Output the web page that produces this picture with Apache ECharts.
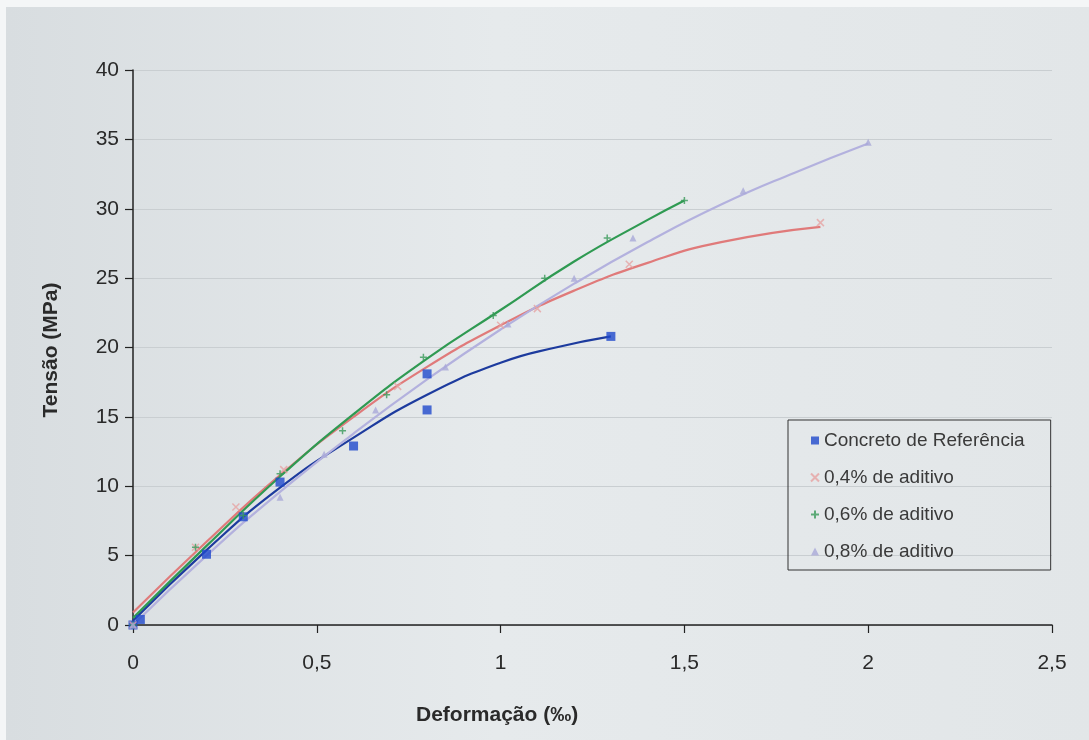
<!DOCTYPE html>
<html>
<head>
<meta charset="utf-8">
<script src="https://cdn.jsdelivr.net/npm/echarts@6/dist/echarts.min.js"></script>
<style>
  html, body { margin: 0; padding: 0; background: #f4f6f7; }
  #chart { width: 1089px; height: 740px; }
</style>
</head>
<body>
<div id="chart"></div>
<script>
// Measured points: [deformação (‰), tensão (MPa)]
const refPoints = [[0, 0], [0.02, 0.4], [0.2, 5.1], [0.3, 7.8], [0.4, 10.3], [0.6, 12.9], [0.8, 18.1], [0.8, 15.5], [1.3, 20.8]];
const add04Points = [[0, 0], [0.17, 5.6], [0.28, 8.5], [0.41, 11.2], [0.72, 17.2], [1.0, 21.6], [1.1, 22.8], [1.35, 26.0], [1.87, 29.0]];
const add06Points = [[0, 0], [0.17, 5.6], [0.3, 7.9], [0.4, 10.9], [0.57, 14.0], [0.69, 16.6], [0.79, 19.3], [0.98, 22.3], [1.12, 25.0], [1.29, 27.9], [1.5, 30.6]];
const add08Points = [[0, 0], [0.4, 9.2], [0.52, 12.3], [0.66, 15.5], [0.85, 18.6], [1.02, 21.7], [1.2, 25.0], [1.36, 27.9], [1.66, 31.3], [2.0, 34.8]];

// Trend curves
const refTrend = [[0, 0.3], [0.2, 5.4], [0.4, 9.9], [0.6, 13.5], [0.8, 16.6], [1.0, 18.9], [1.15, 20.0], [1.3, 20.8]];
const add04Trend = [[0, 0.9], [0.2, 6.0], [0.4, 10.8], [0.6, 15.0], [0.8, 18.6], [1.0, 21.6], [1.2, 24.1], [1.4, 26.1], [1.6, 27.6], [1.87, 28.7]];
const add06Trend = [[0, 0.5], [0.2, 5.7], [0.4, 10.7], [0.6, 15.2], [0.8, 19.2], [1.0, 22.7], [1.2, 26.2], [1.4, 29.2], [1.5, 30.6]];
const add08Trend = [[0, 0], [0.2, 5.0], [0.4, 9.6], [0.6, 13.8], [0.8, 17.7], [1.0, 21.3], [1.2, 24.6], [1.4, 27.6], [1.6, 30.3], [1.8, 32.6], [2.0, 34.7]];

const seriesNames = ['Concreto de Referência', '0,4% de aditivo', '0,6% de aditivo', '0,8% de aditivo'];
const xTicks = { min: 0, max: 2.5, step: 0.5 };
const yTicks = { min: 0, max: 40, step: 5 };
const xTitle = 'Deformação (‰)';
const yTitle = 'Tensão (MPa)';

const FONT = '"Liberation Sans", Arial, sans-serif';
const TEXT = '#2a2a2a';
const decimalComma = v => String(v).replace('.', ',');

const pointSets = [refPoints, add04Points, add06Points, add08Points];
const trendSets = [refTrend, add04Trend, add06Trend, add08Trend];
const markerColors = ['#1f48cc', '#e6a3a3', '#3a9a5a', '#a9a9d8'];
const lineColors = ['#1d3b9e', '#e07a7a', '#2f9a52', '#b3b1de'];
const symbols = [
  'rect',
  'path://M0,0L10,10M10,0L0,10',
  'path://M5,0L5,10M0,5L10,5',
  'triangle'
];

const series = [];
trendSets.forEach((data, i) => {
  series.push({
    name: seriesNames[i] + ' (tendência)',
    type: 'line',
    data: data,
    smooth: true,
    showSymbol: false,
    silent: true,
    lineStyle: { color: lineColors[i], width: 2.2 },
    z: 2
  });
});
pointSets.forEach((data, i) => {
  const stroked = i === 1 || i === 2;
  series.push({
    name: seriesNames[i],
    type: 'scatter',
    data: data,
    symbol: symbols[i],
    symbolSize: i === 0 ? 9 : 7,
    itemStyle: stroked
      ? { color: 'rgba(0,0,0,0)', borderColor: markerColors[i], borderWidth: 1.5 }
      : { color: markerColors[i] },
    z: 3
  });
});

const chart = echarts.init(document.getElementById('chart'), null, { renderer: 'canvas' });
chart.setOption({
  animation: false,
  backgroundColor: '#f4f6f7',
  graphic: [
    {
      type: 'rect',
      z: -10,
      shape: { x: 6, y: 7, width: 1089, height: 740 },
      style: {
        fill: new echarts.graphic.LinearGradient(0, 0, 1, 0, [
          { offset: 0, color: '#d8dde0' },
          { offset: 0.45, color: '#e6eaec' },
          { offset: 1, color: '#e2e6e8' }
        ])
      }
    },
    {
      type: 'text',
      left: 416, top: 705,
      style: { text: xTitle, font: 'bold 21px ' + FONT, fill: TEXT }
    },
    {
      type: 'text',
      x: 51, y: 350,
      rotation: Math.PI / 2,
      style: { text: yTitle, font: 'bold 21px ' + FONT, fill: TEXT, align: 'center', verticalAlign: 'middle' }
    }
  ],
  grid: { left: 133, right: 37, top: 70, bottom: 115 },
  legend: {
    data: seriesNames,
    orient: 'vertical',
    left: 788,
    top: 420,
    padding: [11, 26, 9, 22],
    itemGap: 18,
    itemWidth: 8,
    itemHeight: 8,
    borderColor: '#333',
    borderWidth: 1,
    textStyle: { fontFamily: FONT, fontSize: 19, color: '#3a3a3a' }
  },
  xAxis: {
    type: 'value',
    min: xTicks.min, max: xTicks.max, interval: xTicks.step,
    axisLine: { lineStyle: { color: '#222', width: 1.5 } },
    axisTick: { show: true, length: 8, lineStyle: { color: '#222', width: 1.2 } },
    axisLabel: { fontFamily: FONT, fontSize: 21, color: TEXT, margin: 28, formatter: decimalComma },
    splitLine: { show: false }
  },
  yAxis: {
    type: 'value',
    min: yTicks.min, max: yTicks.max, interval: yTicks.step,
    axisLine: { show: true, lineStyle: { color: '#222', width: 1.5 } },
    axisTick: { show: true, length: 8, lineStyle: { color: '#222', width: 1.2 } },
    axisLabel: { fontFamily: FONT, fontSize: 21, color: TEXT, margin: 14 },
    splitLine: { show: true, lineStyle: { color: '#c9ced1', width: 1.2 } }
  },
  series: series
});
</script>
</body>
</html>
